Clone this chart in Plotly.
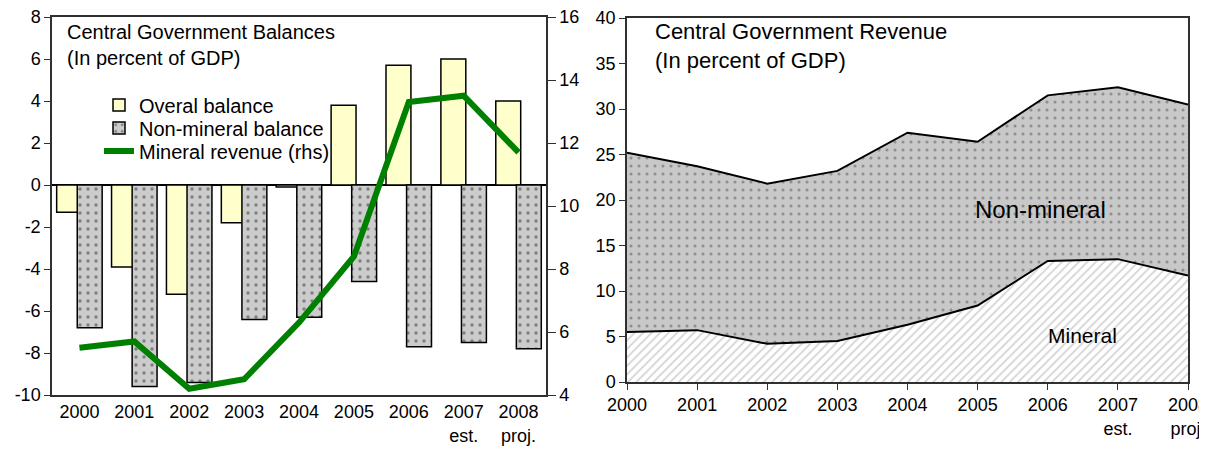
import plotly.graph_objects as go

# Data
years = [2000, 2001, 2002, 2003, 2004, 2005, 2006, 2007, 2008]
year_labels = ['2000', '2001', '2002', '2003', '2004', '2005', '2006',
               '2007<br>est.', '2008<br>proj.']
overall_balance = [-1.3, -3.9, -5.2, -1.8, -0.1, 3.8, 5.7, 6.0, 4.0]
non_mineral_balance = [-6.8, -9.6, -9.4, -6.4, -6.3, -4.6, -7.7, -7.5, -7.8]
mineral_revenue = [5.5, 5.7, 4.2, 4.5, 6.3, 8.4, 13.3, 13.5, 11.7]
non_mineral_revenue = [19.7, 18.0, 17.6, 18.7, 21.1, 18.0, 18.2, 18.9, 18.8]
left_ticks = [-10, -8, -6, -4, -2, 0, 2, 4, 6, 8]

pos = list(range(len(years)))
FONT = 'Liberation Sans, Arial, sans-serif'
AX = '#303030'

# the page body adds an 8px margin, so the figure is a bit smaller
W, H, OFF = 1199, 451, 8


def px_x(v):
    return (v - OFF) / W


def px_y(v):
    return 1 - (v - OFF) / H


fig = go.Figure()

# ---- left panel: balances ----
fig.add_trace(go.Bar(
    x=pos, y=overall_balance, name='Overal balance', legend='legend',
    width=0.454, offset=-0.415,
    marker=dict(color='#FFFFCC', line=dict(color='black', width=1.5)),
    xaxis='x', yaxis='y'))
fig.add_trace(go.Bar(
    x=pos, y=non_mineral_balance, name='Non-mineral balance', legend='legend2',
    width=0.454, offset=-0.04,
    marker=dict(color='#CCCCCC', line=dict(color='black', width=1.5),
                pattern=dict(shape='.', bgcolor='#CCCCCC', fgcolor='#333333',
                             size=8, solidity=0.15)),
    xaxis='x', yaxis='y'))
fig.add_trace(go.Scatter(
    x=pos, y=mineral_revenue, name='Mineral revenue (rhs)', mode='lines',
    legend='legend3', line=dict(color='#008000', width=6),
    xaxis='x', yaxis='y2'))

# ---- right panel: revenue ----
fig.add_trace(go.Scatter(
    x=years, y=mineral_revenue, stackgroup='rev', mode='lines',
    line=dict(color='black', width=2), fillcolor='white',
    fillpattern=dict(shape='/', bgcolor='white', fgcolor='#A8A8A8',
                     size=6, solidity=0.3),
    showlegend=False, xaxis='x3', yaxis='y3'))
fig.add_trace(go.Scatter(
    x=years, y=non_mineral_revenue, stackgroup='rev', mode='lines',
    line=dict(color='black', width=2), fillcolor='#C8C8C8',
    fillpattern=dict(shape='.', bgcolor='#C8C8C8', fgcolor='#555555',
                     size=8, solidity=0.12),
    showlegend=False, xaxis='x3', yaxis='y3'))

ldom_y = [px_y(395), px_y(17)]
zero_pos = ldom_y[0] + (ldom_y[1] - ldom_y[0]) * 10 / 18
tick_font = dict(family=FONT, size=18, color='black')
bound_ticks = [p + 0.5 for p in pos[:-1]]


def legend_box(y):
    return dict(x=px_x(99), y=px_y(y), xanchor='left', yanchor='middle',
                bgcolor='rgba(0,0,0,0)', font=dict(size=20))


fig.update_layout(
    width=W, height=H,
    margin=dict(l=0, r=0, t=0, b=0),
    paper_bgcolor='white', plot_bgcolor='white',
    font=dict(family=FONT, size=18, color='black'),
    barmode='overlay',
    showlegend=True,
    legend=legend_box(105),
    legend2=legend_box(128),
    legend3=legend_box(151),
    xaxis=dict(domain=[px_x(52), px_x(546)], range=[-0.5, 8.5],
               tickvals=pos, ticktext=year_labels, ticks='',
               showline=True, linecolor=AX, linewidth=1.5, mirror=True,
               showgrid=False, zeroline=False, tickfont=tick_font,
               anchor='y', automargin=False),
    yaxis=dict(domain=ldom_y, range=[-10, 8], tickvals=left_ticks,
               ticktext=[str(v) for v in left_ticks], ticks='outside',
               ticklen=6, tickcolor=AX, showline=True, linecolor=AX,
               linewidth=1.5, showgrid=False, zeroline=True,
               zerolinecolor='black', zerolinewidth=2,
               tickfont=tick_font, automargin=False,
               ticklabeloverflow='allow'),
    yaxis2=dict(overlaying='y', side='right', anchor='x', range=[4, 16],
                dtick=2, ticks='outside', ticklen=8, tickcolor=AX,
                showline=True, linecolor=AX, linewidth=1.5, showgrid=False,
                zeroline=False, tickfont=tick_font, automargin=False,
                ticklabeloverflow='allow'),
    xaxis4=dict(overlaying='x', anchor='free', position=zero_pos, side='bottom',
                range=[-0.5, 8.5], tickvals=bound_ticks,
                ticks='outside', ticklen=5, tickcolor='black',
                showticklabels=False, showline=False, showgrid=False,
                zeroline=False),
    xaxis5=dict(overlaying='x', anchor='free', position=zero_pos, side='top',
                range=[-0.5, 8.5], tickvals=bound_ticks,
                ticks='outside', ticklen=5, tickcolor='black',
                showticklabels=False, showline=False, showgrid=False,
                zeroline=False),
    xaxis3=dict(domain=[px_x(627), px_x(1188)], range=[2000, 2008],
                tickvals=years, ticktext=year_labels, ticks='outside',
                ticklen=6, tickcolor=AX, showline=True, linecolor=AX,
                linewidth=1.5, mirror=True, showgrid=False, zeroline=False,
                tickfont=tick_font, anchor='y3', automargin=False,
                ticklabeloverflow='allow'),
    yaxis3=dict(domain=[px_y(382), px_y(18)], range=[0, 40], dtick=5,
                ticks='outside', ticklen=6, tickcolor=AX, showline=True,
                linecolor=AX, linewidth=1.5, mirror=True, showgrid=False,
                zeroline=False, tickfont=tick_font, anchor='x3',
                automargin=False, ticklabeloverflow='allow'),
)

fig.add_annotation(text='Central Government Balances<br>(In percent of GDP)',
                   xref='paper', yref='paper', x=px_x(65), y=px_y(19),
                   xanchor='left', yanchor='top', align='left',
                   showarrow=False, font=dict(size=20))
fig.add_annotation(text='Central Government Revenue<br>(In percent of GDP)',
                   xref='paper', yref='paper', x=px_x(653), y=px_y(17),
                   xanchor='left', yanchor='top', align='left',
                   showarrow=False, font=dict(size=22))
fig.add_annotation(text='Non-mineral', xref='x3', yref='y3', x=2005.9, y=19.0,
                   showarrow=False, font=dict(size=24))
fig.add_annotation(text='Mineral', xref='x3', yref='y3', x=2006.5, y=5.1,
                   showarrow=False, font=dict(size=21))

fig.write_html('out.html')
